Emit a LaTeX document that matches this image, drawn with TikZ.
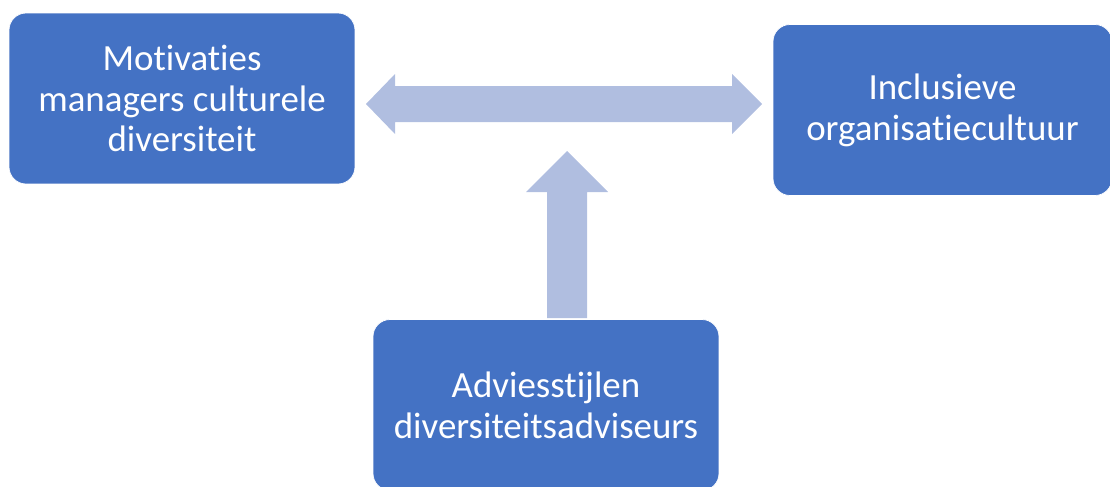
\documentclass[tikz,border=0pt]{standalone}
\usepackage{fontspec}
\setmainfont{Carlito}[Ligatures={NoCommon}]
\usetikzlibrary{positioning, calc}
\definecolor{boxblue}{RGB}{68, 114, 196}
\definecolor{arrowblue}{RGB}{176, 190, 224}
\tikzset{
    themebox/.style={
        draw=white,
        line width=0.4pt,
        fill=boxblue,
        rounded corners=0.34cm,
        minimum height=3.42cm,
        minimum width=#1,
        align=center,
        text=white,
        font=\fontsize{21}{23.3}\selectfont,
        inner sep=0pt,
    },
    blockarrow/.style={
        fill=arrowblue,
        draw=none,
    },
}

\begin{document}
\begin{tikzpicture}[x=0.02cm, y=-0.02cm]

\useasboundingbox (0,0) rectangle (1110,487);
\clip (0,0) rectangle (1110,487);

% ===== 三个主题框 =====
\node[themebox=6.92cm] (motiv) at (182,98.5) {Motivaties\\managers culturele\\diversiteit};
\node[themebox=6.78cm] (incl) at (942.5,110) {Inclusieve\\organisatiecultuur};
\node[themebox=6.92cm] (advies) at (546,405) {Adviesstijlen\\diversiteitsadviseurs};

% ===== 箭头 =====
% tips of the arrows
\coordinate (lefttip) at (366,104);
\coordinate (righttip) at (762,104);
\coordinate (uptip) at (567,151);
\coordinate (upfoot) at (567,318);

% double arrow between motiv and incl
\fill[blockarrow] (lefttip) -- ++(29,-30) -- ++(0,12) -- ($(righttip)+(-30,-18)$)
    -- ++(0,-12) -- (righttip) -- ++(-30,30) -- ++(0,-12) -- ($(lefttip)+(29,18)$)
    -- ++(0,12) -- cycle;

% single arrow from advies up to the double arrow
\fill[blockarrow] (uptip) -- ++(41,41) -- ++(-21,0) -- ($(upfoot)+(20,0)$)
    -- ++(-40,0) -- ($(uptip)+(-20,41)$) -- ++(-21,0) -- cycle;

\end{tikzpicture}
\end{document}
